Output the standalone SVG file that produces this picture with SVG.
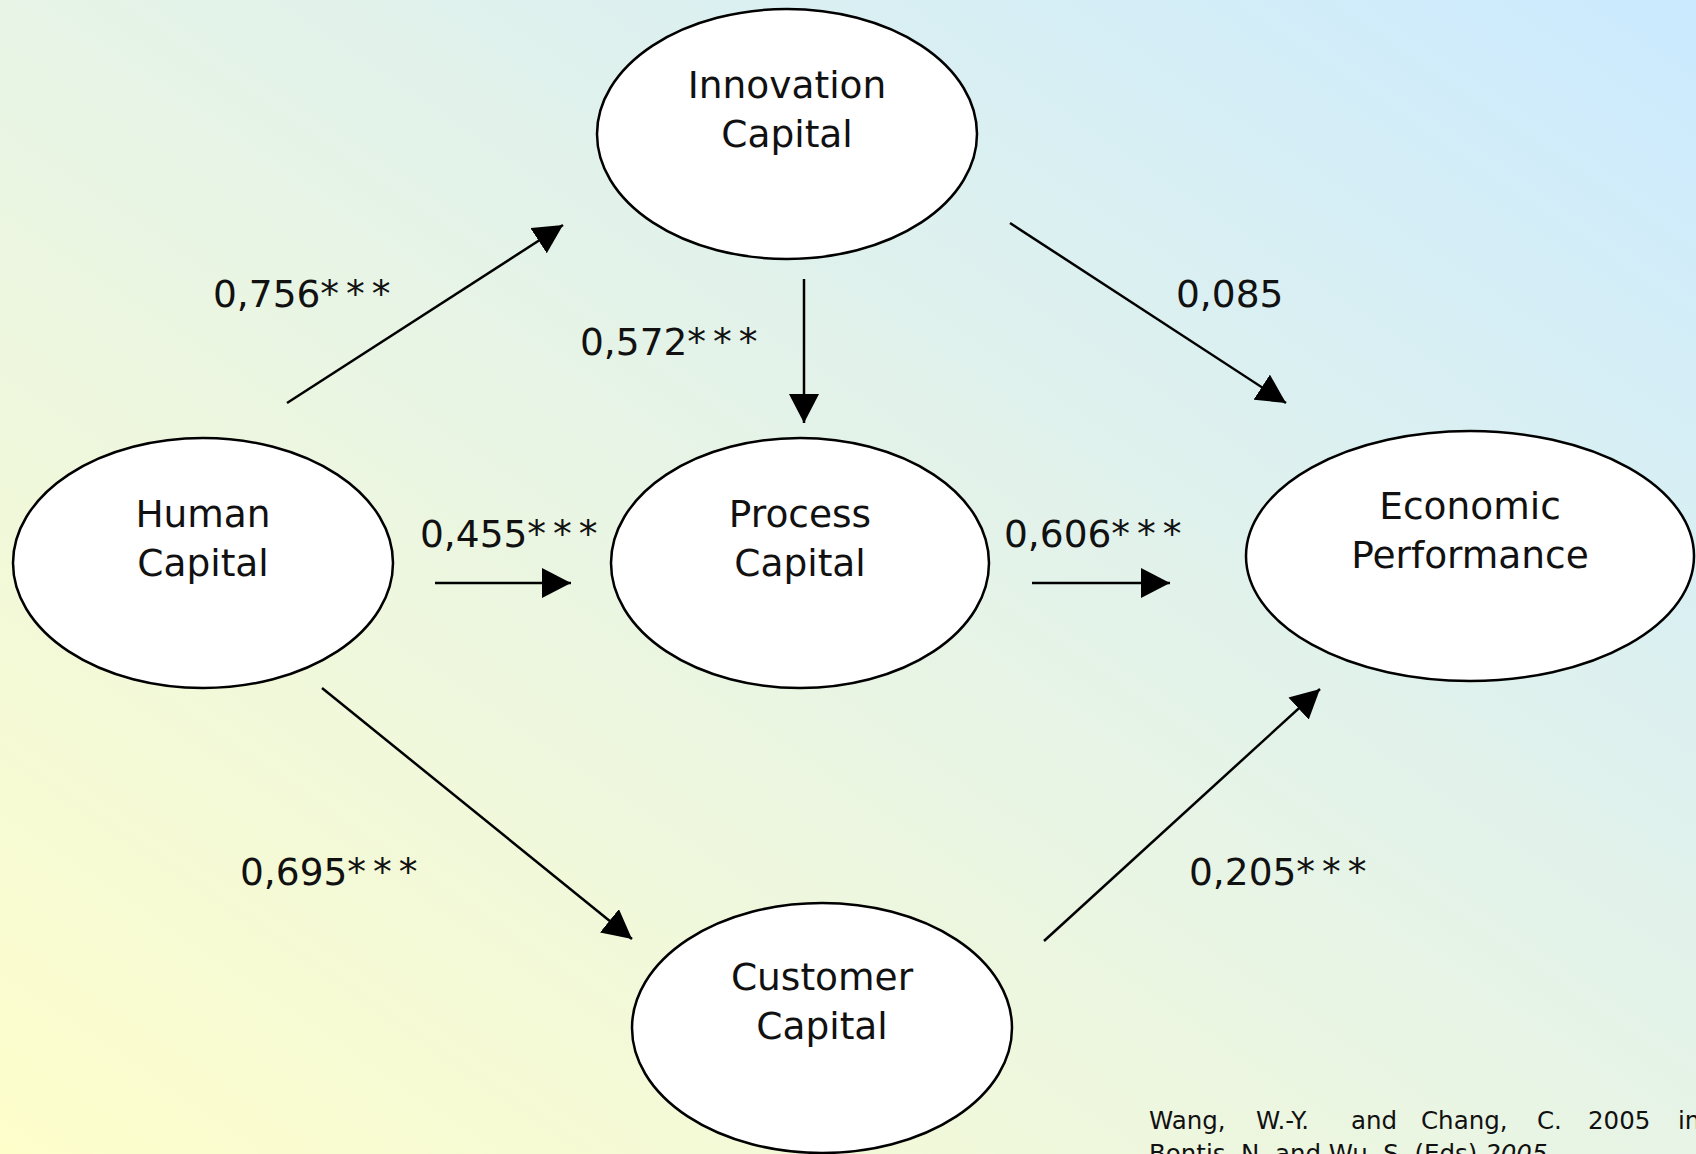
<svg xmlns="http://www.w3.org/2000/svg" width="1696" height="1154" viewBox="0 0 1696 1154">
  <defs>
    <linearGradient id="bg" x1="0" y1="1" x2="1" y2="0">
      <stop offset="0" stop-color="#fefecb"/>
      <stop offset="0.5" stop-color="#e7f4e6"/>
      <stop offset="1" stop-color="#cbeaff"/>
    </linearGradient>
    <marker id="arrow" markerUnits="userSpaceOnUse" markerWidth="30" markerHeight="30" refX="29" refY="15" orient="auto" viewBox="0 0 30 30">
      <path d="M0,0 L29,15 L0,30 z" fill="#000"/>
    </marker>
  </defs>
  <style>
    .node { fill: #fff; stroke: #000; stroke-width: 2.5; }
    .label { font-family: "DejaVu Sans", Verdana, sans-serif; font-size: 37.5px; fill: #111; }
    .name { text-anchor: middle; }
    .stars { letter-spacing: 7px; }
    .edge { stroke: #000; stroke-width: 2.5; fill: none; marker-end: url(#arrow); }
    .cite { font-family: "DejaVu Sans", Verdana, sans-serif; font-size: 24.5px; fill: #111; }
  </style>

  <rect x="0" y="0" width="1696" height="1154" fill="url(#bg)"/>

  <!-- connectors -->
  <g id="connectors">
    <line class="edge" x1="287" y1="403" x2="563" y2="225"/>
    <line class="edge" x1="804" y1="279" x2="804" y2="423"/>
    <line class="edge" x1="1010" y1="223" x2="1286" y2="403"/>
    <line class="edge" x1="435" y1="583" x2="571" y2="583"/>
    <line class="edge" x1="1032" y1="583" x2="1170" y2="583"/>
    <line class="edge" x1="322" y1="688" x2="632" y2="939"/>
    <line class="edge" x1="1044" y1="941" x2="1320" y2="689"/>
  </g>

  <!-- path coefficients -->
  <g id="coefficients" class="label">
    <text x="213" y="307">0,756<tspan class="stars">***</tspan></text>
    <text x="580" y="355">0,572<tspan class="stars">***</tspan></text>
    <text x="1176" y="307">0,085</text>
    <text x="420" y="547">0,455<tspan class="stars">***</tspan></text>
    <text x="1004" y="547">0,606<tspan class="stars">***</tspan></text>
    <text x="240" y="885">0,695<tspan class="stars">***</tspan></text>
    <text x="1189" y="885">0,205<tspan class="stars">***</tspan></text>
  </g>

  <!-- nodes -->
  <g id="innovation-capital">
    <ellipse class="node" cx="787" cy="134" rx="190" ry="125"/>
    <text class="label name" x="787" y="98">Innovation</text>
    <text class="label name" x="787" y="147">Capital</text>
  </g>
  <g id="human-capital">
    <ellipse class="node" cx="203" cy="563" rx="190" ry="125"/>
    <text class="label name" x="203" y="527">Human</text>
    <text class="label name" x="203" y="576">Capital</text>
  </g>
  <g id="process-capital">
    <ellipse class="node" cx="800" cy="563" rx="189" ry="125"/>
    <text class="label name" x="800" y="527">Process</text>
    <text class="label name" x="800" y="576">Capital</text>
  </g>
  <g id="economic-performance">
    <ellipse class="node" cx="1470" cy="556" rx="224" ry="125"/>
    <text class="label name" x="1470" y="519">Economic</text>
    <text class="label name" x="1470" y="568">Performance</text>
  </g>
  <g id="customer-capital">
    <ellipse class="node" cx="822" cy="1028" rx="190" ry="125"/>
    <text class="label name" x="822" y="990">Customer</text>
    <text class="label name" x="822" y="1039">Capital</text>
  </g>

  <!-- source reference (justified, runs past the page edge) -->
  <g id="citation" class="cite">
    <text y="1129"><tspan x="1149">Wang,</tspan><tspan x="1256">W.-Y.</tspan><tspan x="1351">and</tspan><tspan x="1421">Chang,</tspan><tspan x="1537">C.</tspan><tspan x="1588">2005</tspan><tspan x="1678">in</tspan></text>
    <text x="1149" y="1162">Bontis, N. and Wu, S. (Eds) <tspan font-style="italic">2005</tspan></text>
  </g>
</svg>
